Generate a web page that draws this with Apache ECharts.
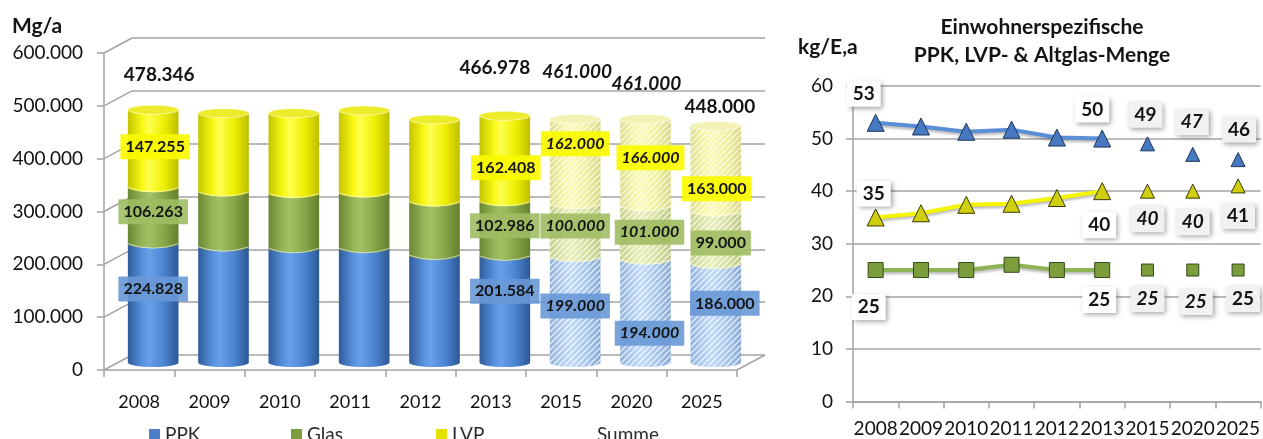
<!DOCTYPE html>
<html>
<head>
<meta charset="utf-8">
<title>PPK, Glas und LVP</title>
<script src="https://cdn.jsdelivr.net/npm/echarts@6/dist/echarts.min.js"></script>
<style>
  html, body { margin: 0; padding: 0; background: #ffffff; }
  #chart { width: 1263px; height: 439px; }
</style>
</head>
<body>
<div id="chart"></div>
<script>
// ---- data ---------------------------------------------------------------
const years = ['2008', '2009', '2010', '2011', '2012', '2013', '2015', '2020', '2025'];

// collected quantities, Mg/a
const ppkMass  = [224828, 219000, 216000, 216000, 203000, 201584, 199000, 194000, 186000];
const glasMass = [106263, 104000, 104000, 105000, 101000, 102986, 100000, 101000, 99000];
const lvpMass  = [147255, 149000, 152000, 156000, 156000, 162408, 162000, 166000, 163000];
const sumMass  = [478346, 477000, 472000, 477000, 460000, 466978, 461000, 461000, 448000];
const massTicks = [0, 100000, 200000, 300000, 400000, 500000, 600000];

// per inhabitant, kg/(E*a)
const ppkPerCapita  = [53, 52.3, 51.3, 51.7, 50.2, 50, 49, 47, 46];
const lvpPerCapita  = [35, 35.8, 37.4, 37.6, 38.7, 40, 40, 40, 41];
const glasPerCapita = [25, 25, 25, 26, 25, 25, 25, 25, 25];
const perCapitaTicks = [0, 10, 20, 30, 40, 50, 60];

// first projected year (2015 onwards is a forecast)
const forecastFrom = 6;

// ---- layout of value labels (dx, dy in px, italic) ----------------------
const massLabelNudge = {
  PPK:   { '2008': [0, -14, 0], '2013': [0, -18, 0], '2015': [0, -4, 1], '2020': [4, 22, 1], '2025': [9, -10, 0] },
  Glas:  { '2008': [0, -4, 0],  '2013': [0, -3, 0],  '2015': [0, -5, 1], '2020': [4, -1, 1], '2025': [5, 5, 0] },
  LVP:   { '2008': [2, -2, 0],  '2013': [1, 9, 0],   '2015': [0, -18, 1], '2020': [5, -5, 1], '2025': [1, 20, 0] },
  Summe: { '2008': [6, -35, 0], '2013': [-10, -48, 0], '2015': [2, -47, 1], '2020': [1, -35, 1], '2025': [4, -19, 0] }
};
const perCapitaLabelNudge = {
  PPK:  { '2008': [-12, -29, 0], '2013': [-10, -29, 0], '2015': [-2, -29, 0], '2020': [-1, -32, 1], '2025': [1, -30, 0] },
  LVP:  { '2008': [-2, -24, 0],  '2013': [-3, 34, 0],   '2015': [0, 28, 1],   '2020': [0, 31, 1],   '2025': [0, 30, 0] },
  Glas: { '2008': [-7, 37, 0],   '2013': [-3, 30, 0],   '2015': [0, 29, 1],   '2020': [3, 32, 1],   '2025': [5, 29, 0] }
};

// ---- helpers --------------------------------------------------------------
const FONT = 'Lato, "Open Sans", "Noto Sans", sans-serif';
const INK = '#141414';
const AXIS_GREY = '#a3a3a3';
const DEPTH_X = 28, DEPTH_Y = 15;   // offset between front edge and back wall of the 3D box

const fmtDe = v => String(Math.round(v)).replace(/\B(?=(\d{3})+(?!\d))/g, '.');

function hGradient(colors) {
  const pos = [0, 0.28, 0.42, 0.72, 1];
  return {
    type: 'linear', x: 0, y: 0, x2: 1, y2: 0,
    colorStops: colors.map((c, k) => ({ offset: pos[k], color: c }))
  };
}

function stripes(color) {
  const c = document.createElement('canvas');
  c.width = 6; c.height = 6;
  const g = c.getContext('2d');
  g.strokeStyle = color;
  g.lineWidth = 1.3;
  g.beginPath();
  g.moveTo(0, 6); g.lineTo(6, 0);
  g.moveTo(-3, 3); g.lineTo(3, -3);
  g.moveTo(3, 9); g.lineTo(9, 3);
  g.stroke();
  return { image: c, repeat: 'repeat' };
}
const stripeFill = stripes('rgba(255,255,255,0.75)');

const segments = [
  {
    name: 'PPK', values: ppkMass, legend: '#4a7fc8',
    solid: ['#2f5c9c', '#5690dc', '#68a0ea', '#4a83d0', '#2c5794'],
    pale:  ['#8eb0dc', '#b4d0f2', '#c2dbf8', '#a7c6ec', '#87a8d4'],
    box: 'rgba(104,152,214,0.9)'
  },
  {
    name: 'Glas', values: glasMass, legend: '#7d9c3f',
    solid: ['#6a8632', '#95b558', '#a2c064', '#86a548', '#62802c'],
    pale:  ['#c6d08a', '#e0e8ac', '#e8eeb8', '#d6e0a0', '#bec884'],
    box: 'rgba(158,188,98,0.9)'
  },
  {
    name: 'LVP', values: lvpMass, legend: '#e8e800',
    solid: ['#c4c400', '#f8f814', '#ffff50', '#eeee00', '#bebe00'],
    pale:  ['#dcdc8c', '#f6f6a6', '#fafab6', '#f0f09c', '#d6d684'],
    cap: '#ecec2a', capPale: '#f2f2b4',
    box: 'rgba(250,250,0,0.92)'
  }
];

function valueText(x, y, text, italic, bg, size) {
  return {
    type: 'text', z2: 100,
    x: x, y: y,
    style: {
      text: text,
      font: (italic ? 'italic ' : '') + 'bold ' + size + 'px ' + FONT,
      fill: INK,
      align: 'center', verticalAlign: 'middle',
      textAlign: 'center', textVerticalAlign: 'middle',
      backgroundColor: bg || null,
      padding: bg ? [5, 5, 4, 5] : 0
    }
  };
}

function cylinderSeries(segIndex) {
  const seg = segments[segIndex];
  const isTop = segIndex === segments.length - 1;
  const data = years.map((y, i) => {
    let base = 0;
    for (let k = 0; k < segIndex; k++) base += segments[k].values[i];
    return [i, base, seg.values[i]];
  });
  return {
    type: 'custom',
    name: seg.name,
    xAxisIndex: 1, yAxisIndex: 1,
    itemStyle: { color: seg.legend },
    encode: { x: 0, y: [1, 2] },
    data: data,
    renderItem: function (params, api) {
      const i = api.value(0), base = api.value(1), val = api.value(2);
      const future = i >= forecastFrom;
      const pB = api.coord([i, base]);
      const pT = api.coord([i, base + val]);
      const w = api.size([1, 0])[0] * 0.72;
      const rx = w / 2, ry = 4.5;
      const x0 = pB[0] - rx, x1 = pB[0] + rx, yB = pB[1], yT = pT[1];
      const bodyPath = 'M' + x0 + ',' + yT + 'L' + x0 + ',' + yB +
        'A' + rx + ',' + ry + ' 0 0 0 ' + x1 + ',' + yB + 'L' + x1 + ',' + yT + 'Z';
      const kids = [
        { type: 'path', shape: { pathData: bodyPath }, style: { fill: hGradient(future ? seg.pale : seg.solid) } }
      ];
      if (future) {
        kids.push({ type: 'path', shape: { pathData: bodyPath }, style: { fill: stripeFill } });
      }
      if (segIndex > 0) {
        kids.push({
          type: 'bezierCurve',
          shape: { x1: x0, y1: yB, x2: x1, y2: yB, cpx1: pB[0], cpy1: yB + 2 * ry },
          style: { stroke: 'rgba(255,255,255,0.6)', lineWidth: 1, fill: null }
        });
      }
      if (isTop) {
        const capPath = 'M' + x0 + ',' + yT + 'A' + rx + ',' + ry + ' 0 1 0 ' + x1 + ',' + yT +
          'A' + rx + ',' + ry + ' 0 1 0 ' + x0 + ',' + yT + 'Z';
        kids.push({
          type: 'path', shape: { pathData: capPath },
          style: { fill: future ? seg.capPale : seg.cap, stroke: 'rgba(255,255,255,0.55)', lineWidth: 1 }
        });
      }
      const nudge = massLabelNudge[seg.name][years[i]];
      if (nudge) {
        kids.push(valueText(pB[0] + nudge[0], (yB + yT) / 2 + nudge[1], fmtDe(val), nudge[2], seg.box, 16));
      }
      return { type: 'group', children: kids };
    }
  };
}

const sumSeries = {
  type: 'custom',
  name: 'Summe',
  xAxisIndex: 1, yAxisIndex: 1,
  itemStyle: { color: 'rgba(0,0,0,0)' },
  encode: { x: 0, y: 1 },
  data: years.map((y, i) => [i, sumMass[i]]),
  renderItem: function (params, api) {
    const i = api.value(0);
    const nudge = massLabelNudge.Summe[years[i]];
    if (!nudge) return null;
    const p = api.coord([i, api.value(1)]);
    return valueText(p[0] + nudge[0], p[1] + nudge[1], fmtDe(api.value(1)), nudge[2], null, 19);
  }
};

// diagonal edges joining the front axis ticks with the back wall
const boxEdgeSeries = {
  type: 'custom',
  name: 'edges',
  xAxisIndex: 0, yAxisIndex: 0,
  silent: true,
  encode: { x: 0, y: 1 },
  data: massTicks.map(v => [0, v]),
  renderItem: function (params, api) {
    const cs = params.coordSys;
    const v = api.value(1);
    const y = api.coord([0, v])[1];
    const style = { stroke: AXIS_GREY, lineWidth: 1.5 };
    const lines = [{ type: 'line', shape: { x1: cs.x, y1: y, x2: cs.x + DEPTH_X, y2: y - DEPTH_Y }, style: style }];
    if (v === 0) {
      lines.push({ type: 'line', shape: { x1: cs.x + cs.width, y1: y, x2: cs.x + cs.width + DEPTH_X, y2: y - DEPTH_Y }, style: style });
    }
    return { type: 'group', children: lines };
  }
};

function perCapitaData(values, nudges, actualPart) {
  return values.map((v, i) => {
    const actual = i < forecastFrom;
    if (actual !== actualPart) return '-';
    const n = nudges[years[i]];
    if (!n) return v;
    return {
      value: v,
      label: {
        show: true, offset: [n[0], n[1]],
        fontStyle: n[2] ? 'italic' : 'normal',
        backgroundColor: actual ? '#ffffff' : '#f1f1f1'
      }
    };
  });
}

const perCapitaLabel = {
  show: false,
  position: 'inside',
  formatter: p => String(p.value),
  fontFamily: FONT, fontSize: 19, fontWeight: 'bold', color: INK,
  padding: [4, 6, 3, 6],
  shadowColor: 'rgba(0,0,0,0.38)', shadowBlur: 5, shadowOffsetX: 2, shadowOffsetY: 2
};

function perCapitaSeries(name, values, nudges, look) {
  const common = {
    type: 'line',
    xAxisIndex: 2, yAxisIndex: 3,
    symbol: look.symbol,
    showAllSymbol: true,
    label: perCapitaLabel,
    itemStyle: { color: look.marker, borderColor: look.edge, borderWidth: 1 },
    z: look.z
  };
  return [
    Object.assign({}, common, {
      name: name,
      symbolSize: look.size,
      lineStyle: { color: look.line, width: 4, shadowColor: 'rgba(0,0,0,0.3)', shadowBlur: 3, shadowOffsetY: 2 },
      data: perCapitaData(values, nudges, true)
    }),
    Object.assign({}, common, {
      name: name + ' Prognose',
      symbolSize: look.size - 3,
      lineStyle: { width: 0, opacity: 0 },
      data: perCapitaData(values, nudges, false)
    })
  ];
}

// ---- chart ----------------------------------------------------------------
const legendBase = {
  top: 420, itemWidth: 11, itemHeight: 11, itemGap: 0, selectedMode: false,
  textStyle: { fontFamily: FONT, fontSize: 19, color: '#2a2a2a' }
};

const frontGrid = { left: 104, top: 53, width: 633, height: 317 };

const option = {
  animation: false,
  backgroundColor: '#ffffff',
  textStyle: { fontFamily: FONT },
  graphic: [
    { type: 'text', x: 12, y: 26, style: { text: 'Mg/a', font: 'bold 21px ' + FONT, fill: INK, verticalAlign: 'middle', textVerticalAlign: 'middle' } },
    { type: 'text', x: 798, y: 47, style: { text: 'kg/E,a', font: 'bold 21px ' + FONT, fill: INK, verticalAlign: 'middle', textVerticalAlign: 'middle' } },
    { type: 'text', x: 1042, y: 41, style: {
        text: 'Einwohnerspezifische\nPPK, LVP- & Altglas-Menge', font: 'bold 21px ' + FONT, lineHeight: 28,
        fill: INK, align: 'center', textAlign: 'center', verticalAlign: 'middle', textVerticalAlign: 'middle' } }
  ],
  legend: [
    Object.assign({}, legendBase, { left: 144, data: [{ name: 'PPK', icon: 'rect', itemStyle: { color: '#4a7fc8' } }] }),
    Object.assign({}, legendBase, { left: 286, data: [{ name: 'Glas', icon: 'rect', itemStyle: { color: '#7d9c3f' } }] }),
    Object.assign({}, legendBase, { left: 431, data: [{ name: 'LVP', icon: 'rect', itemStyle: { color: '#e2e200' } }] }),
    Object.assign({}, legendBase, { left: 576, data: [{ name: 'Summe', icon: 'rect', itemStyle: { opacity: 0 } }] })
  ],
  grid: [
    frontGrid,
    { left: frontGrid.left + DEPTH_X / 2, top: frontGrid.top - DEPTH_Y / 2, width: 633, height: 317 },
    { left: frontGrid.left + DEPTH_X, top: frontGrid.top - DEPTH_Y, width: 633, height: 317 },
    { left: 853, top: 86, right: 0, bottom: 37.5 }
  ],
  xAxis: [
    {
      type: 'category', gridIndex: 0, data: years,
      axisLine: { lineStyle: { color: AXIS_GREY, width: 1.5 } },
      axisTick: { show: true, length: 7, lineStyle: { color: AXIS_GREY, width: 1.5 } },
      axisLabel: { interval: 0, margin: 23, fontFamily: FONT, fontSize: 18, color: '#111111' },
      splitLine: { show: false }
    },
    { type: 'category', gridIndex: 1, data: years, show: false },
    {
      type: 'category', gridIndex: 3, data: years,
      axisLine: { lineStyle: { color: AXIS_GREY, width: 1.5 } },
      axisTick: { show: true, length: 7, lineStyle: { color: AXIS_GREY, width: 1.5 } },
      axisLabel: { interval: 0, margin: 18, fontFamily: FONT, fontSize: 19, color: '#111111' },
      splitLine: { show: false }
    },
    { type: 'category', gridIndex: 2, data: years, show: false }
  ],
  yAxis: [
    {
      type: 'value', gridIndex: 0, min: 0, max: 600000, interval: 100000,
      axisLine: { show: true, lineStyle: { color: AXIS_GREY, width: 1.5 } },
      axisTick: { show: true, length: 7, lineStyle: { color: AXIS_GREY, width: 1.5 } },
      axisLabel: { formatter: fmtDe, margin: 21, fontFamily: FONT, fontSize: 19, color: '#111111' },
      splitLine: { show: false }
    },
    { type: 'value', gridIndex: 1, min: 0, max: 600000, interval: 100000, show: false },
    {
      type: 'value', gridIndex: 2, min: 0, max: 600000, interval: 100000,
      axisLine: { show: false }, axisTick: { show: false }, axisLabel: { show: false },
      splitLine: { show: true, lineStyle: { color: AXIS_GREY, width: 1.5 } }
    },
    {
      type: 'value', gridIndex: 3, min: 0, max: 60, interval: 10,
      axisLine: { show: true, lineStyle: { color: AXIS_GREY, width: 1.5 } },
      axisTick: { show: true, length: 7, lineStyle: { color: AXIS_GREY, width: 1.5 } },
      axisLabel: { margin: 20, fontFamily: FONT, fontSize: 19, color: '#111111' },
      splitLine: { show: true, lineStyle: { color: AXIS_GREY, width: 1.5 } }
    }
  ],
  series: [
    boxEdgeSeries,
    cylinderSeries(0),
    cylinderSeries(1),
    cylinderSeries(2),
    sumSeries
  ].concat(
    perCapitaSeries('PPK je Einwohner', ppkPerCapita, perCapitaLabelNudge.PPK,
      { symbol: 'triangle', size: 17, marker: '#4679c2', edge: '#1f3558', line: '#5a8fd8', z: 4 }),
    perCapitaSeries('LVP je Einwohner', lvpPerCapita, perCapitaLabelNudge.LVP,
      { symbol: 'triangle', size: 17, marker: '#cfcf10', edge: '#3a3a08', line: '#f5f500', z: 3 }),
    perCapitaSeries('Glas je Einwohner', glasPerCapita, perCapitaLabelNudge.Glas,
      { symbol: 'rect', size: 15, marker: '#7b9d3c', edge: '#34481a', line: '#8db356', z: 3 })
  )
};

const chart = echarts.init(document.getElementById('chart'), null, { renderer: 'canvas' });
chart.setOption(option);
</script>
</body>
</html>
